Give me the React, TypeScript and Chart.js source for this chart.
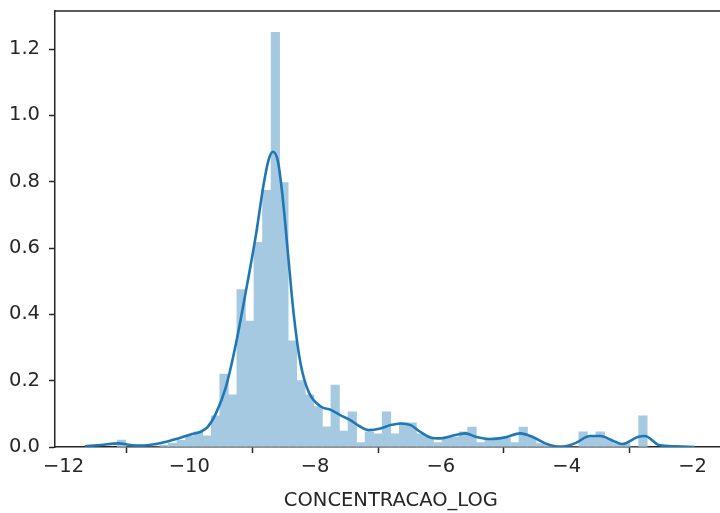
import { useEffect, useRef } from "react";
import { Chart, registerables } from "chart.js";

Chart.register(...registerables);

// Histogram of CONCENTRACAO_LOG (density), equal-width bins starting at HIST_START
const HIST_START = -11.146;
const HIST_BIN_WIDTH = 0.1359;
const histDensity = [
  0.021, 0.0, 0.0, 0.0, 0.0, 0.006, 0.012, 0.02, 0.034, 0.046,
  0.034, 0.094, 0.22, 0.157, 0.475, 0.38, 0.617, 0.774, 1.25, 0.797,
  0.32, 0.2, 0.157, 0.122, 0.061, 0.187, 0.048, 0.106, 0.013, 0.046,
  0.04, 0.106, 0.04, 0.073, 0.073, 0.04, 0.03, 0.013, 0.03, 0.03,
  0.046, 0.06, 0.013, 0.027, 0.027, 0.027, 0.013, 0.06, 0.03, 0.01,
  0.006, 0.0, 0.0, 0.0, 0.046, 0.035, 0.046, 0.025, 0.01, 0.01,
  0.0, 0.094,
];

// Kernel density estimate curve
const kdeX = [
  -11.66, -11.4, -11.13, -10.93, -10.8, -10.61, -10.45, -10.21, -9.98, -9.82,
  -9.71, -9.58, -9.42, -9.26, -9.1, -8.94, -8.82, -8.74, -8.67, -8.59,
  -8.52, -8.42, -8.34, -8.23, -8.1, -7.91, -7.75, -7.6, -7.44, -7.28,
  -7.15, -6.96, -6.8, -6.64, -6.48, -6.33, -6.17, -6.01, -5.77, -5.61,
  -5.45, -5.21, -4.98, -4.74, -4.55, -4.34, -4.1, -3.87, -3.63, -3.47,
  -3.23, -3.12, -2.87, -2.76, -2.52, -2.28, -1.96,
];
const kdeY = [
  0.002, 0.006, 0.011, 0.006, 0.004, 0.007, 0.012, 0.024, 0.038, 0.046,
  0.06, 0.1, 0.18, 0.31, 0.47, 0.64, 0.79, 0.865, 0.89, 0.86,
  0.76, 0.56, 0.4, 0.25, 0.165, 0.122, 0.112, 0.096, 0.081, 0.061,
  0.051, 0.056, 0.066, 0.071, 0.066, 0.046, 0.029, 0.026, 0.036, 0.041,
  0.031, 0.024, 0.029, 0.041, 0.031, 0.011, 0.001, 0.011, 0.033, 0.033,
  0.016, 0.009, 0.03, 0.033, 0.005, 0.002, 0.0,
];

const xTicks = [-12, -10, -8, -6, -4, -2];
const yTicks = [0, 0.2, 0.4, 0.6, 0.8, 1.0, 1.2];
const xLabel = "CONCENTRACAO_LOG";

const X_MIN = -12.135;
const X_MAX = -1.455;
const Y_MAX = 1.3146;

const BLUE = "#1f77b4";
const BAR_FILL = "#a5c9e1";
const INK = "#262626";
const FONT = "'DejaVu Sans', sans-serif";

const CANVAS_W = 740;
const CANVAS_H = 513;
const AREA_LEFT = 55;
const AREA_TOP = 11;
const AREA_RIGHT = 726.8;
const AREA_BOTTOM = 447;

const fmtMinus = (v: number) => (v < 0 ? "\u2212" : "") + String(Math.abs(v));

const framePlugin = {
  id: "frame",
  afterDraw(chart: any) {
    const { ctx, chartArea } = chart;
    const { left, top, right, bottom } = chartArea;
    ctx.save();
    ctx.strokeStyle = INK;
    ctx.lineWidth = 1.5;
    ctx.beginPath();
    ctx.moveTo(left, top);
    ctx.lineTo(right, top);
    ctx.lineTo(right, bottom);
    ctx.stroke();
    ctx.restore();
  },
};

const zeroPadding = (scale: any) => {
  scale.paddingTop = 0;
  scale.paddingBottom = 0;
  scale.paddingLeft = 0;
  scale.paddingRight = 0;
};

export default function App() {
  const canvasRef = useRef<HTMLCanvasElement | null>(null);

  useEffect(() => {
    if (!canvasRef.current) return;
    const bars = histDensity.map((h, i) => ({
      x: HIST_START + HIST_BIN_WIDTH * (i + 0.5),
      y: h,
    }));
    const curve = kdeX.map((x, i) => ({ x, y: kdeY[i] }));

    const chart = new Chart(canvasRef.current, {
      type: "bar",
      data: {
        datasets: [
          {
            type: "line",
            data: curve,
            borderColor: BLUE,
            borderWidth: 2.6,
            pointRadius: 0,
            cubicInterpolationMode: "monotone",
            fill: false,
            order: 0,
          } as any,
          {
            type: "bar",
            data: bars,
            backgroundColor: BAR_FILL,
            borderWidth: 0,
            barPercentage: 1,
            categoryPercentage: 1,
            order: 1,
          } as any,
        ],
      },
      options: {
        animation: false,
        responsive: false,
        devicePixelRatio: 1,
        layout: {
          padding: { top: AREA_TOP, right: CANVAS_W - AREA_RIGHT, left: 0, bottom: 0 },
        },
        plugins: { legend: { display: false }, tooltip: { enabled: false } },
        scales: {
          x: {
            type: "linear",
            min: X_MIN,
            max: X_MAX,
            offset: false,
            afterFit(scale: any) {
              scale.height = CANVAS_H - AREA_BOTTOM;
              zeroPadding(scale);
            },
            afterBuildTicks(scale: any) {
              scale.ticks = xTicks.map((v) => ({ value: v }));
            },
            ticks: {
              callback: (v: any) => fmtMinus(Number(v)),
              font: { family: FONT, size: 19.5 },
              color: INK,
              padding: 2,
              maxRotation: 0,
              autoSkip: false,
            },
            grid: {
              drawOnChartArea: false,
              drawTicks: true,
              tickLength: 6,
              tickColor: INK,
              tickWidth: 1.5,
            },
            border: { display: true, color: INK, width: 1.5 },
            title: {
              display: true,
              text: xLabel,
              font: { family: FONT, size: 19.5 },
              color: INK,
              padding: { top: 0, bottom: 0 },
            },
          },
          y: {
            type: "linear",
            min: 0,
            max: Y_MAX,
            afterFit(scale: any) {
              scale.width = AREA_LEFT;
              zeroPadding(scale);
            },
            afterBuildTicks(scale: any) {
              scale.ticks = yTicks.map((v) => ({ value: v }));
            },
            ticks: {
              callback: (v: any) => Number(v).toFixed(1),
              font: { family: FONT, size: 19.5 },
              color: INK,
              padding: 9,
            },
            grid: {
              drawOnChartArea: false,
              drawTicks: true,
              tickLength: 6,
              tickColor: INK,
              tickWidth: 1.5,
            },
            border: { display: true, color: INK, width: 1.5 },
          },
        },
      },
      plugins: [framePlugin],
    });
    return () => chart.destroy();
  }, []);

  return (
    <div
      style={{
        position: "absolute",
        left: 0,
        top: 0,
        width: 720,
        height: 513,
        overflow: "hidden",
        background: "#fff",
      }}
    >
      <canvas ref={canvasRef} width={CANVAS_W} height={CANVAS_H} style={{ display: "block" }} />
    </div>
  );
}
